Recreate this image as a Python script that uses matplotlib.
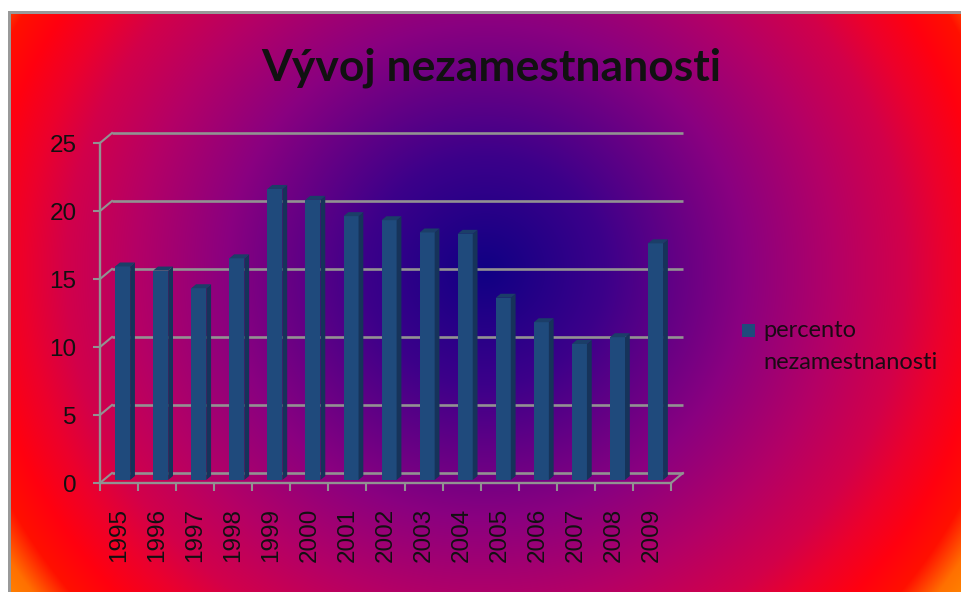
import numpy as np
import matplotlib
matplotlib.use("Agg")
import matplotlib.pyplot as plt
from matplotlib.transforms import offset_copy, IdentityTransform
from matplotlib.patches import Polygon, Rectangle
from matplotlib.lines import Line2D

years = ["1995", "1996", "1997", "1998", "1999", "2000", "2001", "2002",
         "2003", "2004", "2005", "2006", "2007", "2008", "2009"]
unemployment = [15.7, 15.4, 14.1, 16.3, 21.4, 20.6, 19.4, 19.1,
                18.2, 18.1, 13.4, 11.6, 10.0, 10.5, 17.4]
y_ticks = [0, 5, 10, 15, 20, 25]
series_label = ["percento", "nezamestnanosti"]
title = "Vývoj nezamestnanosti"

W, H, DPI = 961, 592, 100
DX, DY = 12, 10          # depth of the 3d box in pixels
BAR_W = 0.394            # bar face width in category units
D_FRONT, D_BACK = 0.3, 0.7

grid_c = "#929292"
face_c = "#1f4a7c"
side_c = "#16335a"
top_c = "#1b3e68"

plt.rcParams["font.family"] = ["Liberation Sans", "DejaVu Sans"]

fig = plt.figure(figsize=(W / DPI, H / DPI), dpi=DPI)

# ---- background: radial gradient fill with a grey frame ----
bg = fig.add_axes([0, 0, 1, 1])
bg.set_axis_off()
yy, xx = np.mgrid[0:H, 0:W]
r = np.hypot(xx - 485, (yy - 270) * 1.05)
stops_r = [0, 120, 260, 350, 420, 460, 500, 535, 565, 620]
stops_c = np.array([
    (0x10, 0x00, 0x84), (0x3c, 0x00, 0x8a), (0x8a, 0x00, 0x80),
    (0xb4, 0x00, 0x66), (0xd2, 0x00, 0x4a), (0xec, 0x00, 0x2c),
    (0xff, 0x00, 0x10), (0xff, 0x10, 0x00), (0xff, 0x70, 0x00),
    (0xff, 0xa0, 0x00)]) / 255.0
img = np.stack([np.interp(r, stops_r, stops_c[:, k]) for k in range(3)], axis=-1)
img[(xx < 11) | (yy < 14)] = (0.6, 0.6, 0.6)
img[(xx < 8) | (yy < 11)] = (1, 1, 1)
bg.imshow(img, aspect="auto", interpolation="nearest")

# ---- plot area (front plane of the 3d box) ----
ax = fig.add_axes([100 / W, (H - 483) / H, 571 / W, 340 / H])
ax.patch.set_visible(False)
ax.set_xlim(0, len(years))
ax.set_ylim(0, 25)


def shifted(f):
    return offset_copy(ax.transData, fig=fig, x=DX * f, y=DY * f, units="dots")


def disp(x, y, f):
    p = ax.transData.transform((x, y))
    return (p[0] + DX * f, p[1] + DY * f)


# back wall gridlines
ax.hlines(y_ticks, 0, len(years), colors=grid_c, lw=1.9,
          transform=shifted(1.0), clip_on=False, zorder=1)

# depth edges at each y tick and at the right end of the floor
ident = IdentityTransform()
for yv in y_ticks:
    p0, p1 = disp(0, yv, 0), disp(0, yv, 1)
    ax.add_line(Line2D([p0[0], p1[0]], [p0[1], p1[1]], color=grid_c, lw=1.5,
                       transform=ident, clip_on=False, zorder=1))
p0, p1 = disp(len(years), 0, 0), disp(len(years), 0, 1)
ax.add_line(Line2D([p0[0], p1[0]], [p0[1], p1[1]], color=grid_c, lw=1.5,
                   transform=ident, clip_on=False, zorder=1))

# bars: front faces, then side and top faces
x = np.arange(len(years)) + 0.5
ax.bar(x, unemployment, width=BAR_W, color=face_c, edgecolor="none",
       transform=shifted(D_FRONT), clip_on=False, zorder=3)
for xi, v in zip(x, unemployment):
    xl, xr = xi - BAR_W / 2, xi + BAR_W / 2
    side = [disp(xr, 0, D_FRONT), disp(xr, v, D_FRONT),
            disp(xr, v, D_BACK), disp(xr, 0, D_BACK)]
    top = [disp(xl, v, D_FRONT), disp(xr, v, D_FRONT),
           disp(xr, v, D_BACK), disp(xl, v, D_BACK)]
    ax.add_patch(Polygon(side, closed=True, fc=side_c, ec="none",
                         transform=ident, clip_on=False, zorder=3))
    ax.add_patch(Polygon(top, closed=True, fc=top_c, ec="none",
                         transform=ident, clip_on=False, zorder=3))

# axes lines and ticks
for s in ["top", "right"]:
    ax.spines[s].set_visible(False)
for s in ["left", "bottom"]:
    ax.spines[s].set_color(grid_c)
    ax.spines[s].set_linewidth(1.7)
    ax.spines[s].set_zorder(2)

ax.set_yticks(y_ticks)
ax.tick_params(axis="y", direction="out", length=5, width=1.5, color=grid_c,
               pad=12, labelsize=17.5, labelcolor="#111111")
ax.set_xticks(np.arange(len(years) + 1))
ax.set_xticklabels([])
ax.tick_params(axis="x", which="major", direction="out", length=6, width=1.5,
               color=grid_c)
ax.set_xticks(x, minor=True)
ax.set_xticklabels(years, minor=True, rotation=90)
ax.tick_params(axis="x", which="minor", length=0, pad=18, labelsize=17.5,
               labelcolor="#111111")

# title
fig.text(491 / W, 1 - 80 / H, title, ha="center", va="baseline",
         fontsize=32, fontweight="bold", family="Lato", color="#111111")

# legend
fig.patches.append(Rectangle((742 / W, 1 - 337 / H), 13 / W, 13 / H,
                             transform=fig.transFigure, fc=face_c, ec="none"))
fig.text(763 / W, 1 - 337 / H, series_label[0], ha="left", va="baseline",
         fontsize=17, family="Lato", color="#1a0a14")
fig.text(763 / W, 1 - 369 / H, series_label[1], ha="left", va="baseline",
         fontsize=17, family="Lato", color="#1a0a14")

fig.savefig("out.png", dpi=DPI)
